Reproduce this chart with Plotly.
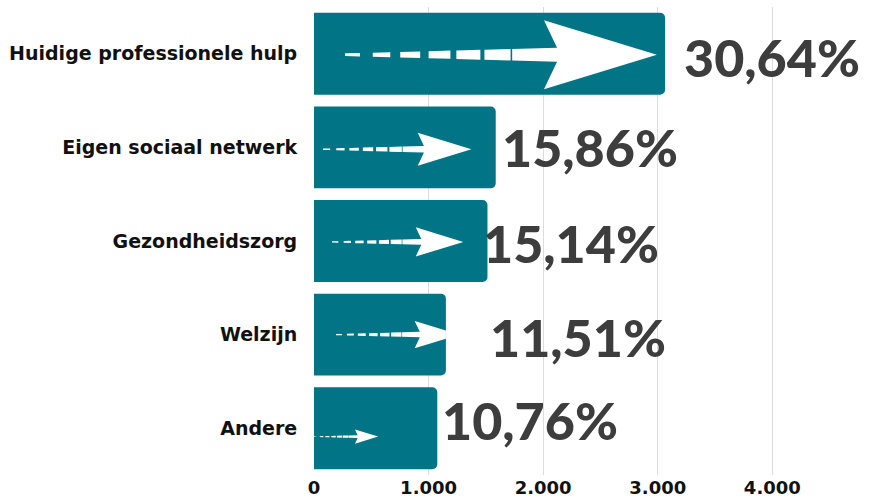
import plotly.graph_objects as go

# ---- data ----
categories = ["Huidige professionele hulp", "Eigen sociaal netwerk", "Gezondheidszorg", "Welzijn", "Andere"]
values = [3064, 1586, 1514, 1151, 1076]
percent_labels = ["30,64%", "15,86%", "15,14%", "11,51%", "10,76%"]
x_tickvals = [0, 1000, 2000, 3000, 4000]
x_ticktext = ["0", "1.000", "2.000", "3.000", "4.000"]

# ---- decoration styling (arrow placement within bars, label offsets) ----
arrow_tail = [271, 79, 157, 192, 0]          # data units along x
arrow_length = [2721, 1295, 1146, 1076, 560]  # data units along x
arrow_yoff = [0.01, 0.02, 0.01, 0.0, 0.09]   # category units (down)
label_xshift = [17, 4, -6, 42, 3]            # px
label_yshift = [-3, 0, -2, -2, 8]            # px

BAR_COLOR = "#017586"
PX_PER_X = 550 / 4800.0   # px per data unit (approx)
PX_PER_Y = 468 / 5.0

fig = go.Figure()
ypos = list(range(len(categories)))

fig.add_trace(go.Bar(
    x=values, y=ypos, orientation="h",
    marker=dict(color=BAR_COLOR, line=dict(width=0)),
    width=0.875, hoverinfo="skip", showlegend=False,
))

# arrows (tapered dashed tail + head), scaled per bar
dash_fracs = [(0.0, 0.048), (0.089, 0.145), (0.177, 0.241), (0.268, 0.338),
              (0.357, 0.434), (0.447, 0.531)]
for i, v in enumerate(values):
    x0 = arrow_tail[i]
    L = arrow_length[i]
    Lpx = L * PX_PER_X
    H = 0.222 * Lpx / PX_PER_Y   # head full height in y units
    yc = ypos[i] + arrow_yoff[i]
    xs, ys = [], []

    def thick(f):
        return 0.2 * H * (0.2 + 0.8 * f / 0.68) / 2.0

    for a, b in dash_fracs:
        xa, xb = x0 + a * L, x0 + b * L
        ta, tb = thick(a), thick(b)
        xs += [xa, xb, xb, xa, xa, None]
        ys += [yc - ta, yc - tb, yc + tb, yc + ta, yc - ta, None]
    # shaft + head
    xs_start = x0 + 0.536 * L
    ts = thick(0.536)
    x_notch = x0 + 0.68 * L
    x_back = x0 + 0.638 * L
    x_tip = x0 + L
    half = 0.5 * H
    xc = min(x_tip, v)
    if xc < x_tip:
        hc = half * (x_tip - xc) / (x_tip - x_back)
        tip_x = [xc, xc]
        tip_y = [yc - hc, yc + hc]
    else:
        tip_x = [x_tip]
        tip_y = [yc]
    px = [xs_start, x_notch, x_back] + tip_x + [x_back, x_notch, xs_start, xs_start]
    py = [yc - ts, yc - 0.1 * H, yc - half] + tip_y + [yc + half, yc + 0.1 * H, yc + ts, yc - ts]
    xs += px + [None]
    ys += py + [None]
    fig.add_trace(go.Scatter(
        x=xs, y=ys, mode="lines", fill="toself", fillcolor="white",
        line=dict(width=0, color="white"), hoverinfo="skip", showlegend=False,
    ))

for i, v in enumerate(values):
    fig.add_annotation(
        x=v, y=ypos[i], text=percent_labels[i], showarrow=False,
        xanchor="left", yanchor="middle", xshift=label_xshift[i], yshift=label_yshift[i],
        font=dict(family="Lato", size=52, color="#3d3d3d", weight=900),
    )

fig.update_layout(
    width=869, height=503,
    margin=dict(l=314, r=5, t=7, b=28, autoexpand=False),
    paper_bgcolor="white", plot_bgcolor="white",
    bargap=0.125,
    barcornerradius=5,
    separators=",.",
    xaxis=dict(
        range=[0, 4800], tickvals=x_tickvals, ticktext=x_ticktext,
        showgrid=True, gridcolor="#dcdcdc", gridwidth=1,
        zeroline=False, showline=False, automargin=False,
        ticks="", ticklen=0,
        tickfont=dict(family="DejaVu Sans", size=18, color="#111111", weight=700),
        fixedrange=True,
    ),
    yaxis=dict(
        range=[4.5, -0.5], tickvals=ypos, ticktext=categories,
        showgrid=False, zeroline=False, showline=False, automargin=False,
        ticks="outside", ticklen=12, tickcolor="rgba(0,0,0,0)",
        tickfont=dict(family="DejaVu Sans", size=19, color="#111111", weight=700),
        fixedrange=True,
    ),
)

fig.write_html(
    "out.html",
    config={"displayModeBar": False},
    post_script="document.body.style.margin='0';document.body.style.padding='0';",
)
